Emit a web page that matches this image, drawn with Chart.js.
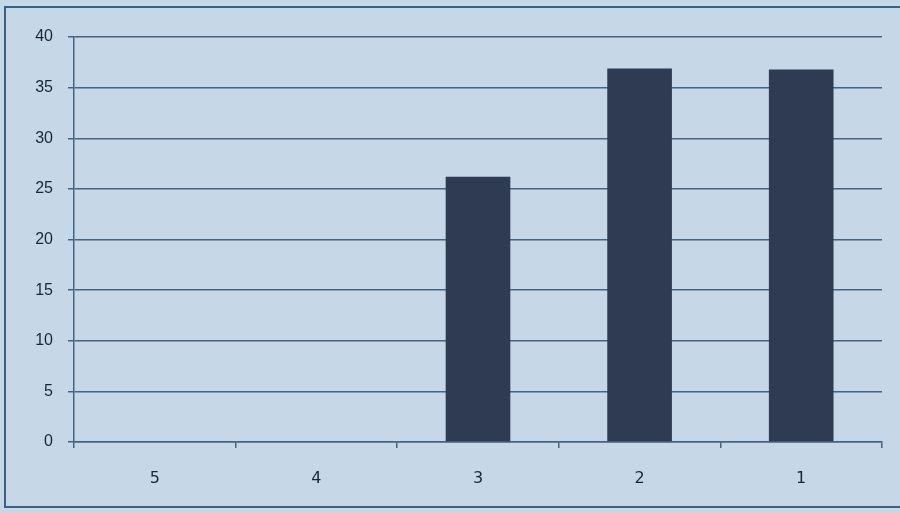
<!DOCTYPE html>
<html>
<head>
<meta charset="utf-8">
<script src="https://cdn.jsdelivr.net/npm/chart.js@4/dist/chart.umd.min.js"></script>
<style>
  html, body { margin: 0; padding: 0; background: #c6d7e7; }
  #wrap { width: 900px; height: 513px; position: relative; }
</style>
</head>
<body>
<div id="wrap"><canvas id="c" width="900" height="513"></canvas></div>
<script>
const categories = ["5", "4", "3", "2", "1"];
const values = [0, 0, 26.2, 36.9, 36.8];
const yTicks = [0, 5, 10, 15, 20, 25, 30, 35, 40];

const lineColor = "#44647f";
const textColor = "#1c2636";

const framePlugin = {
  id: "frame",
  beforeDraw(chart) {
    const ctx = chart.ctx;
    ctx.save();
    ctx.fillStyle = "#c6d7e7";
    ctx.fillRect(0, 0, chart.width, chart.height);
    ctx.strokeStyle = "#3f5f80";
    ctx.lineWidth = 2;
    ctx.strokeRect(5, 7, 905, 500);
    ctx.restore();
  }
};

new Chart(document.getElementById("c"), {
  type: "bar",
  data: {
    labels: categories,
    datasets: [{
      data: values,
      backgroundColor: "#2f3b53",
      borderWidth: 0,
      barPercentage: 0.4,
      categoryPercentage: 1.0
    }]
  },
  options: {
    responsive: false,
    animation: false,
    devicePixelRatio: 1,
    layout: { padding: { left: 0, top: 37, right: 18, bottom: 0 } },
    plugins: { legend: { display: false }, tooltip: { enabled: false } },
    scales: {
      x: {
        offset: true,
        grid: {
          offset: true,
          drawOnChartArea: false,
          drawTicks: true,
          tickLength: 6,
          color: lineColor,
          lineWidth: 1.5
        },
        border: { display: true, color: lineColor, width: 1.5 },
        ticks: {
          color: textColor,
          font: { family: "DejaVu Sans", size: 16 },
          padding: 21,
          maxRotation: 0
        },
        afterFit(scale) { scale.height = 71; }
      },
      y: {
        min: 0,
        max: 40,
        afterBuildTicks(scale) { scale.ticks = yTicks.map(v => ({ value: v })); },
        grid: {
          drawOnChartArea: true,
          drawTicks: true,
          tickLength: 6,
          color: lineColor,
          lineWidth: 1.5
        },
        border: { display: true, color: lineColor, width: 1.5 },
        ticks: {
          color: textColor,
          font: { family: "Liberation Sans", size: 16 },
          padding: 15
        },
        afterFit(scale) { scale.width = 74; }
      }
    }
  },
  plugins: [framePlugin]
});
</script>
</body>
</html>
